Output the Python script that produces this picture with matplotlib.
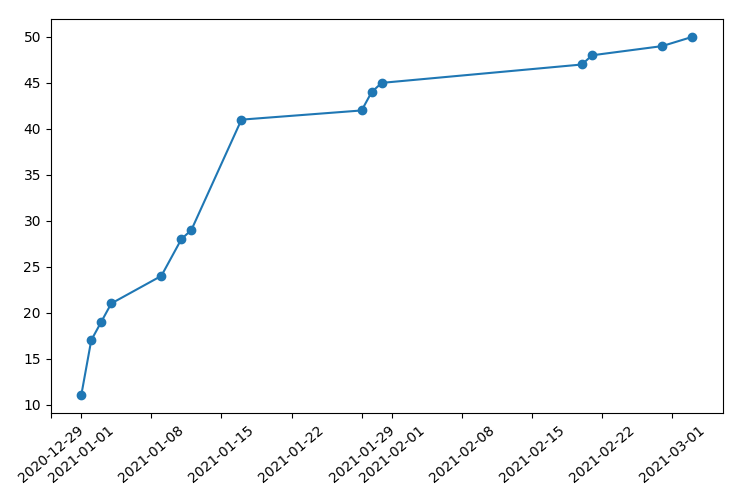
import numpy as np
import pandas as pd
import matplotlib
matplotlib.use("Agg")
import matplotlib.pyplot as plt
import matplotlib.dates as mdates

dates = pd.to_datetime(["2021-01-01", "2021-01-02", "2021-01-03", "2021-01-04",
                        "2021-01-09", "2021-01-11", "2021-01-12", "2021-01-17",
                        "2021-01-29", "2021-01-30", "2021-01-31", "2021-02-20",
                        "2021-02-21", "2021-02-28", "2021-03-03"])
values = [11, 17, 19, 21, 24, 28, 29, 41, 42, 44, 45, 47, 48, 49, 50]

fig, ax = plt.subplots(figsize=(7.4, 5), dpi=100)
ax.plot(dates, values, marker='o')
# old-style weekly ticks (1, 8, 15, 22, 29)
ax.xaxis.set_major_locator(mdates.DayLocator(bymonthday=[1, 8, 15, 22, 29]))
ax.xaxis.set_major_formatter(mdates.DateFormatter('%Y-%m-%d'))
plt.xticks(rotation=40)
plt.subplots_adjust(left=0.0685, right=0.9766, top=0.962, bottom=0.1734)
plt.savefig('out.png', dpi=100)
